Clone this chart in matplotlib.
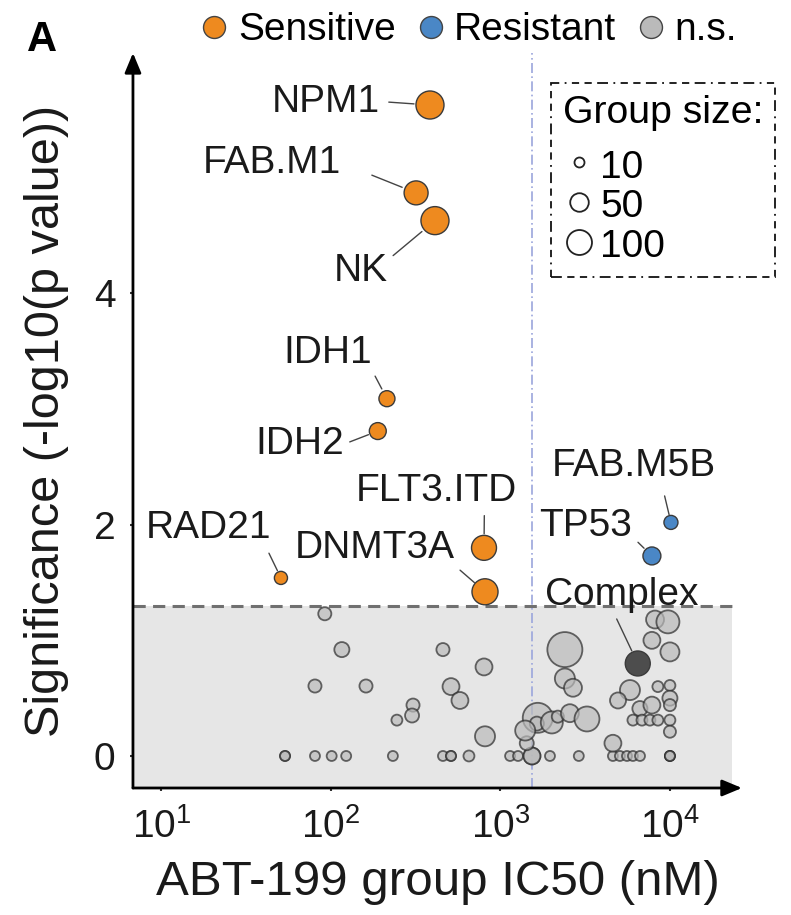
import numpy as np
import matplotlib
matplotlib.use("Agg")
import matplotlib.pyplot as plt
from matplotlib.lines import Line2D

plt.rcParams["font.family"] = ["Liberation Sans", "DejaVu Sans"]
plt.rcParams["mathtext.fontset"] = "custom"
plt.rcParams["mathtext.rm"] = "Liberation Sans"

# ---- labelled groups -------------------------------------------------------
lab_names = ["NPM1", "FAB.M1", "NK", "IDH1", "IDH2", "FLT3.ITD", "DNMT3A",
             "RAD21", "FAB.M5B", "TP53", "Complex"]
lab_ic50 = [384, 318, 411, 214, 189, 800, 811, 50.7, 10140, 7830, 6460]
lab_sig = [5.63, 4.87, 4.63, 3.09, 2.81, 1.80, 1.42, 1.54, 2.02, 1.73, 0.80]
lab_n = [130, 91, 130, 35, 40, 100, 110, 21, 25, 46, 100]
lab_class = ["Sensitive"] * 8 + ["Resistant", "Resistant", "highlight"]

# ---- unlabelled, non-significant groups ------------------------------------
ns_ic50 = [92, 116, 458, 80.5, 161, 511, 577, 305, 301, 245, 800, 811, 652,
           53.6, 53.6, 80.5, 101, 123, 232, 458, 511, 511, 1140, 1270, 1535,
           1535, 1960, 2900, 4610, 5070, 5580, 6050, 6660, 10000, 10000, 10000,
           1430, 1660, 1640, 2010, 1400, 2180, 2570, 3240, 2400, 2400, 2680,
           8170, 9730, 7830, 10000, 5810, 4940, 8490, 10000, 10000, 10000,
           6650, 7830,
           6050, 6840, 7620, 8490, 10000, 10000, 4610]
ns_sig = [1.23, 0.92, 0.92, 0.605, 0.605, 0.60, 0.48, 0.44, 0.35, 0.31, 0.77,
          0.17, 0.0,
          0, 0, 0, 0, 0, 0, 0, 0, 0, 0, 0, 0,
          0, 0, 0, 0, 0, 0, 0, 0, 0, 0, 0,
          0.11, 0.33, 0.28, 0.29, 0.22, 0.34, 0.37, 0.32, 0.92, 0.67, 0.59,
          1.18, 1.16, 1.00, 0.90, 0.57, 0.48, 0.60, 0.61, 0.50, 0.44,
          0.41, 0.44,
          0.31, 0.31, 0.31, 0.31, 0.31, 0.21, 0.11]
ns_n = [21, 30, 21, 21, 21, 40, 40, 21, 25, 13, 40, 60, 13,
        10, 10, 10, 10, 10, 10, 10, 10, 10, 10, 10, 40,
        40, 10, 10, 10, 10, 10, 10, 10, 10, 10, 10,
        25, 151, 25, 75, 60, 17, 46, 100, 213, 60, 46,
        46, 83, 40, 53, 60, 35, 13, 13, 30, 17, 30, 40,
        13, 13, 13, 13, 13, 17, 40]

legend_sizes = [10, 50, 100]
SIG_CUTOFF = -np.log10(0.05)
ALL_SAMPLES_IC50 = 1540

COLORS = {"Sensitive": "#ee8a1f", "Resistant": "#4a87c6",
          "n.s.": "#bababa", "highlight": "#4d4d4d"}

FS = 28


def diam_pt(n):
    """Marker diameter (points) for a group of n samples."""
    return (3.07 + 2.19 * np.sqrt(np.asarray(n, dtype=float))) * 0.72


fig = plt.figure(figsize=(7.91, 9.15), dpi=100)
ax = fig.add_axes([0.1681, 0.1388, 0.7699, 0.8033])

ax.set_xscale("log")
ax.set_xlim(10 ** 0.832, 10 ** 4.425)
ax.set_ylim(-0.277, 6.08)

# non-significant region
ax.axhspan(-0.277, SIG_CUTOFF, xmin=0, xmax=0.984, color="#e6e6e6", zorder=0, lw=0)
ax.axhline(SIG_CUTOFF, xmin=0, xmax=0.99, color="#707070", lw=2.2,
           ls=(0, (4, 2.4)), zorder=1)
ax.axvline(ALL_SAMPLES_IC50, color="#9ba6dc", lw=1.2, ls=(0, (6, 2, 1, 2)), zorder=1)

# unlabelled groups
ax.scatter(ns_ic50, ns_sig, s=diam_pt(ns_n) ** 2, facecolor=COLORS["n.s."],
           edgecolor="#2b2b2b", linewidth=1.3, alpha=0.7, zorder=2)

# labelled groups
lab_colors = [COLORS[c] for c in lab_class]
ax.scatter(lab_ic50, lab_sig, s=diam_pt(lab_n) ** 2, facecolor=lab_colors,
           edgecolor="#3a3a3a", linewidth=1.0, zorder=3)

# label placement: text offset (px, y up), anchor on text, gaps (px)
label_layout = {
    "NPM1": ((-104, 3.5), (1.0, 0.5), 6, 16),
    "FAB.M1": ((-144, 30), (1.0, 0.5), 30, 15),
    "NK": ((-74, -50), (1.0, 0.8), 3, 17),
    "IDH1": ((-59, 46), (1.0, 0.0), 3, 11),
    "IDH2": ((-78, -13), (1.0, 0.5), 3, 10),
    "FLT3.ITD": ((-48, 57), (0.8, 0.0), 4, 14),
    "DNMT3A": ((-110, 44), (1.0, 0.0), 3, 14),
    "RAD21": ((-72, 50), (0.95, 0.0), 5, 8),
    "FAB.M5B": ((-37, 56), (0.67, 0.0), 9, 8),
    "TP53": ((-66, 30), (1.0, 0.2), 4, 11),
    "Complex": ((-16, 68), (0.45, 0.0), 3, 14),
}
for name, x, y in zip(lab_names, lab_ic50, lab_sig):
    (dx, dy), rel, sa, sb = label_layout[name]
    ax.annotate(name, xy=(x, y), xytext=(dx * 0.72, dy * 0.72),
                textcoords="offset points", ha="center", va="center",
                fontsize=FS, color="#1a1a1a", zorder=4,
                arrowprops=dict(arrowstyle="-", color="#444444", lw=1.0,
                                shrinkA=sa * 0.72, shrinkB=sb * 0.72,
                                relpos=rel))

# axes with arrow heads
for sp in ax.spines.values():
    sp.set_visible(False)
arrow_kw = dict(arrowstyle="-|>,head_length=0.6,head_width=0.25", lw=2.0,
                color="black", shrinkA=0, shrinkB=0, mutation_scale=20)
ax.annotate("", xy=(0, 1), xytext=(0, 0), xycoords="axes fraction",
            arrowprops=arrow_kw, annotation_clip=False)
ax.annotate("", xy=(1, 0), xytext=(0, 0), xycoords="axes fraction",
            arrowprops=arrow_kw, annotation_clip=False)

ax.set_xticks([1e1, 1e2, 1e3, 1e4])
ax.minorticks_off()
ax.set_yticks([0, 2, 4])
ax.tick_params(axis="both", labelsize=FS, length=2.5, width=1.5,
               color="#333333", labelcolor="#1a1a1a")
ax.tick_params(axis="x", pad=12)
ax.tick_params(axis="y", pad=10)

ax.set_xlabel("ABT-199 group IC50 (nM)", fontsize=35.5, color="#1a1a1a", labelpad=10)
ax.set_ylabel("Significance (-log10(p value))", fontsize=35, color="#1a1a1a",
              labelpad=18)

# group size legend
size_handles = [Line2D([], [], ls="", marker="o", markersize=diam_pt(n),
                       markerfacecolor="white", markeredgecolor="#222222",
                       markeredgewidth=1.3) for n in legend_sizes]
leg = ax.legend(size_handles, [str(n) for n in legend_sizes], title="Group size:",
                loc="upper right", bbox_to_anchor=(1.054, 0.959), borderaxespad=0,
                fontsize=FS, title_fontsize=28.3, alignment="left",
                labelspacing=0.03, handleheight=1.0, handletextpad=0.15,
                handlelength=0.82, borderpad=0.3, fancybox=False, framealpha=1)
leg._legend_box.sep = 16 * 0.72
frame = leg.get_frame()
frame.set_edgecolor("#111111")
frame.set_linewidth(1.3)
frame.set_linestyle((0, (6, 3, 4, 3, 4, 3, 1, 3)))
leg.set_zorder(5)

# class legend on top
class_handles = [Line2D([], [], ls="", marker="o", markersize=15.8,
                        markerfacecolor=COLORS[c], markeredgecolor="#444444",
                        markeredgewidth=1.0)
                 for c in ["Sensitive", "Resistant", "n.s."]]
fig.legend(class_handles, ["Sensitive", "Resistant", "n.s."], loc="center",
           bbox_to_anchor=(0.594, 0.967), ncol=3, frameon=False, fontsize=FS,
           handletextpad=0.3, columnspacing=0.6, handlelength=0.6)

fig.text(0.053, 0.956, "A", fontsize=30, fontweight="bold", ha="center", va="center")

fig.savefig("out.png", dpi=100)
